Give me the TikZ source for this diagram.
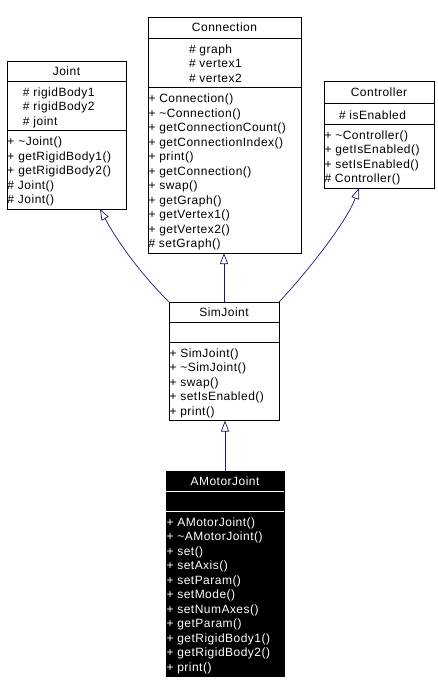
\documentclass[tikz,border=0pt]{standalone}
\usepackage{fontspec}
\setmainfont{Liberation Sans}[LetterSpace=4]
\usepackage{tikz}
\usetikzlibrary{arrows.meta, calc}
\definecolor{edgeblue}{HTML}{191970}
\tikzset{
  classbox/.style={rectangle, draw, fill=white, line width=0.9pt, anchor=north west, inner sep=0pt, outer sep=0pt},
  hotbox/.style={classbox, fill=black},
  classname/.style={inner sep=0pt, outer sep=0pt, font=\fontsize{12}{14.5}\selectfont},
  members/.style={anchor=north west, align=left, inner sep=0pt, outer sep=0pt, font=\fontsize{12}{14.5}\selectfont, execute at begin node=\strut},
  divider/.style={line width=0.9pt},
  inherit/.style={-{Triangle[open, length=11pt, width=8pt]}, draw=edgeblue, line width=0.7pt},
}
\begin{document}
\begin{tikzpicture}[x=1pt, y=-1pt]
  \fill[white] (0,0) rectangle (438,694);
  \useasboundingbox (0,0) rectangle (438,694);

  % Joint
  \node[classbox, minimum width=119pt, minimum height=148pt] (joint) at (7,61) {};
  \node[classname] (joint-name) at ($(joint.north)+(0,10)$) {Joint};
  \draw[divider] ($(joint.north west)+(0,20)$) -- ($(joint.north east)+(0,20)$);
  \draw[divider] ($(joint.north west)+(0,69.5)$) -- ($(joint.north east)+(0,69.5)$);
  \node[members] (joint-attr) at ($(joint.north west)+(16,26.35)$) {\# rigidBody1\\\# rigidBody2\\\# joint};
  \node[members] (joint-ops) at ($(joint.north west)+(0.5,75.85)$) {+ \textasciitilde Joint()\\+ getRigidBody1()\\+ getRigidBody2()\\\# Joint()\\\# Joint()};

  % Connection
  \node[classbox, minimum width=153pt, minimum height=236pt] (conn) at (148,17) {};
  \node[classname] (conn-name) at ($(conn.north)+(0,10.5)$) {Connection};
  \draw[divider] ($(conn.north west)+(0,21)$) -- ($(conn.north east)+(0,21)$);
  \draw[divider] ($(conn.north west)+(0,70.5)$) -- ($(conn.north east)+(0,70.5)$);
  \node[members] (conn-attr) at ($(conn.north west)+(41,27.35)$) {\# graph\\\# vertex1\\\# vertex2};
  \node[members] (conn-ops) at ($(conn.north west)+(0.5,76.85)$) {+ Connection()\\+ \textasciitilde Connection()\\+ getConnectionCount()\\+ getConnectionIndex()\\+ print()\\+ getConnection()\\+ swap()\\+ getGraph()\\+ getVertex1()\\+ getVertex2()\\\# setGraph()};

  % Controller
  \node[classbox, minimum width=110pt, minimum height=107pt] (ctrl) at (324,81) {};
  \node[classname] (ctrl-name) at ($(ctrl.north)+(0,11)$) {Controller};
  \draw[divider] ($(ctrl.north west)+(0,22)$) -- ($(ctrl.north east)+(0,22)$);
  \draw[divider] ($(ctrl.north west)+(0,43)$) -- ($(ctrl.north east)+(0,43)$);
  \node[members] (ctrl-attr) at ($(ctrl.north west)+(15,28.35)$) {\# isEnabled};
  \node[members] (ctrl-ops) at ($(ctrl.north west)+(0.5,49.35)$) {+ \textasciitilde Controller()\\+ getIsEnabled()\\+ setIsEnabled()\\\# Controller()};

  % SimJoint
  \node[classbox, minimum width=110pt, minimum height=118.5pt] (simjoint) at (169,302) {};
  \node[classname] (simjoint-name) at ($(simjoint.north)+(0,10)$) {SimJoint};
  \draw[divider] ($(simjoint.north west)+(0,20)$) -- ($(simjoint.north east)+(0,20)$);
  \draw[divider] ($(simjoint.north west)+(0,40)$) -- ($(simjoint.north east)+(0,40)$);
  \node[members] (simjoint-ops) at ($(simjoint.north west)+(0.5,46.35)$) {+ SimJoint()\\+ \textasciitilde SimJoint()\\+ swap()\\+ setIsEnabled()\\+ print()};

  % AMotorJoint
  \node[hotbox, minimum width=118pt, minimum height=205.5pt] (amotor) at (166,471) {};
  \node[classname, text=white] (amotor-name) at ($(amotor.north)+(0,10)$) {AMotorJoint};
  \draw[divider, white] ($(amotor.north west)+(0.45,20)$) -- ($(amotor.north east)+(-0.45,20)$);
  \draw[divider, white] ($(amotor.north west)+(0.45,40)$) -- ($(amotor.north east)+(-0.45,40)$);
  \node[members, text=white] (amotor-ops) at ($(amotor.north west)+(0.5,46.35)$) {+ AMotorJoint()\\+ \textasciitilde AMotorJoint()\\+ set()\\+ setAxis()\\+ setParam()\\+ setMode()\\+ setNumAxes()\\+ getParam()\\+ getRigidBody1()\\+ getRigidBody2()\\+ print()};

  % Arrows
  \draw[inherit] (simjoint.north west) .. controls +(-30,-30) and +(16.5,31) .. ([xshift=33.5pt]joint.south);
  \draw[inherit] (simjoint.north) -- (simjoint.north |- conn.south);
  \draw[inherit] (simjoint.north east) .. controls +(30,-32) and +(-12,33) .. ([xshift=-20pt]ctrl.south);
  \draw[inherit] (amotor.north) -- (amotor.north |- simjoint.south);
\end{tikzpicture}
\end{document}
